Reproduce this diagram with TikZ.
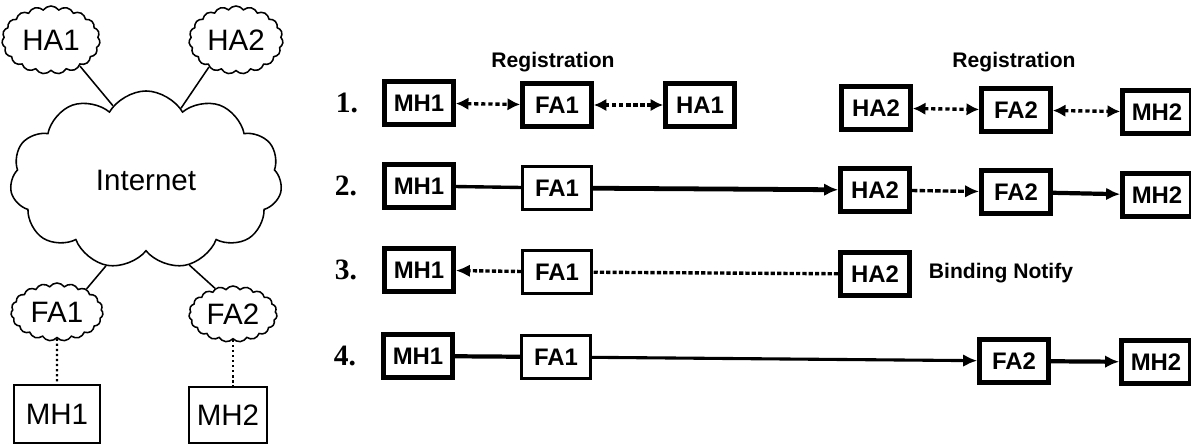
\documentclass[tikz,border=0pt]{standalone}
\usepackage{fontspec}
\setmainfont{Liberation Sans}
\newfontfamily\numfont{Liberation Serif}
\usetikzlibrary{shapes.symbols,arrows.meta}

\begin{document}
\begin{tikzpicture}[x=0.025cm,y=-0.025cm,
  puff/.style={cloud,draw,cloud puffs=19,cloud puff arc=110,cloud ignores aspect,inner sep=0pt,line width=1.1pt,font=\fontsize{21}{23}\selectfont},
  host/.style={draw,line width=1.1pt,inner sep=0pt,font=\fontsize{21}{23}\selectfont},
  box/.style={draw,line width=3.4pt,minimum width=1.72cm,minimum height=1.08cm,inner sep=0pt,font=\bfseries\fontsize{17}{19}\selectfont},
  thinbox/.style={box,line width=1.8pt},
  num/.style={font=\numfont\bfseries\fontsize{21}{23}\selectfont},
  msg/.style={font=\bfseries\fontsize{15}{17}\selectfont},
  reg/.style={line width=2.4pt,dash pattern=on 3pt off 2pt,{Latex[length=9pt,width=9pt]}-{Latex[length=9pt,width=9pt]}},
  fwd/.style={line width=2.4pt,-{Latex[length=10pt,width=9pt]}},
  link/.style={line width=1.1pt}]

\useasboundingbox (0,0) rectangle (1191,446);

\node [puff,minimum width=2.45cm,minimum height=1.7cm] (ha1) at (51,40) {HA1};
\node [puff,minimum width=2.35cm,minimum height=1.7cm] (ha2) at (236,40) {HA2};
\node [puff,cloud puffs=11,cloud puff arc=120,minimum width=6.8cm,minimum height=4.45cm] (inet) at (146,180) {Internet};
\node [puff,minimum width=2.3cm,minimum height=1.45cm] (lfa1) at (57,312) {FA1};
\node [puff,minimum width=2.2cm,minimum height=1.4cm] (lfa2) at (233,314) {FA2};
\node [host,minimum width=2.15cm,minimum height=1.45cm] (lmh1) at (57,414) {MH1};
\node [host,minimum width=1.95cm,minimum height=1.4cm] (lmh2) at (228,415) {MH2};

\draw [link] (ha1.-42) -- (inet.114);
\draw [link] (ha2.-135) -- (inet.64);
\draw [link] (lfa1.38) -- (inet.-115);
\draw [link] (lfa2.125) -- (inet.-63);
\draw [line width=1.6pt,dotted] (lfa1.south) -- (lmh1.north);
\draw [line width=1.6pt,dotted] (lfa2.south) -- (lfa2.south |- lmh2.north);

\node [num] (n1) at (347,103) {1.};
\node [box] (amh1) at (419,103) {MH1};
\node [box] (afa1) at (557,105) {FA1};
\node [box] (aha1) at (700,105) {HA1};
\node [box] (aha2) at (876,108) {HA2};
\node [box] (afa2) at (1016,110) {FA2};
\node [box] (amh2) at (1157,112) {MH2};
\node [msg] (reg1) at (553,62) {Registration};
\node [msg] (reg2) at (1014,62) {Registration};
\draw [reg] (amh1) -- (afa1);
\draw [reg] (afa1) -- (aha1);
\draw [reg] (aha2) -- (afa2);
\draw [reg] (afa2) -- (amh2);

\node [num] (n2) at (346,186) {2.};
\node [box] (bmh1) at (419,186) {MH1};
\node [thinbox] (bfa1) at (557,188) {FA1};
\node [box] (bha2) at (875,190) {HA2};
\node [box] (bfa2) at (1016,192) {FA2};
\node [box] (bmh2) at (1157,195) {MH2};
\draw [line width=2.4pt] (bmh1) -- (bfa1);
\draw [fwd,line width=3.4pt] (bfa1) -- (bha2);
\draw [fwd,dash pattern=on 4pt off 1.5pt] (bha2) -- (bfa2);
\draw [fwd,line width=3pt] (bfa2) -- (bmh2);

\node [num] (n3) at (346,270) {3.};
\node [box] (cmh1) at (419,270) {MH1};
\node [thinbox] (cfa1) at (557,272) {FA1};
\node [box] (cha2) at (875,274) {HA2};
\node [msg] (bind) at (1001,273) {Binding Notify};
\draw [fwd,dash pattern=on 3pt off 1.5pt] (cfa1) -- (cmh1);
\draw [line width=2.4pt,dash pattern=on 3pt off 1.5pt] (cha2) -- (cfa1);

\node [num] (n4) at (345,356) {4.};
\node [box] (dmh1) at (418,356) {MH1};
\node [thinbox] (dfa1) at (556,357) {FA1};
\node [box] (dfa2) at (1014,361) {FA2};
\node [box] (dmh2) at (1156,362) {MH2};
\draw [line width=3pt] (dmh1) -- (dfa1);
\draw [fwd,line width=2.2pt] (dfa1) -- (dfa2);
\draw [fwd,line width=3pt] (dfa2) -- (dmh2);

\end{tikzpicture}
\end{document}
